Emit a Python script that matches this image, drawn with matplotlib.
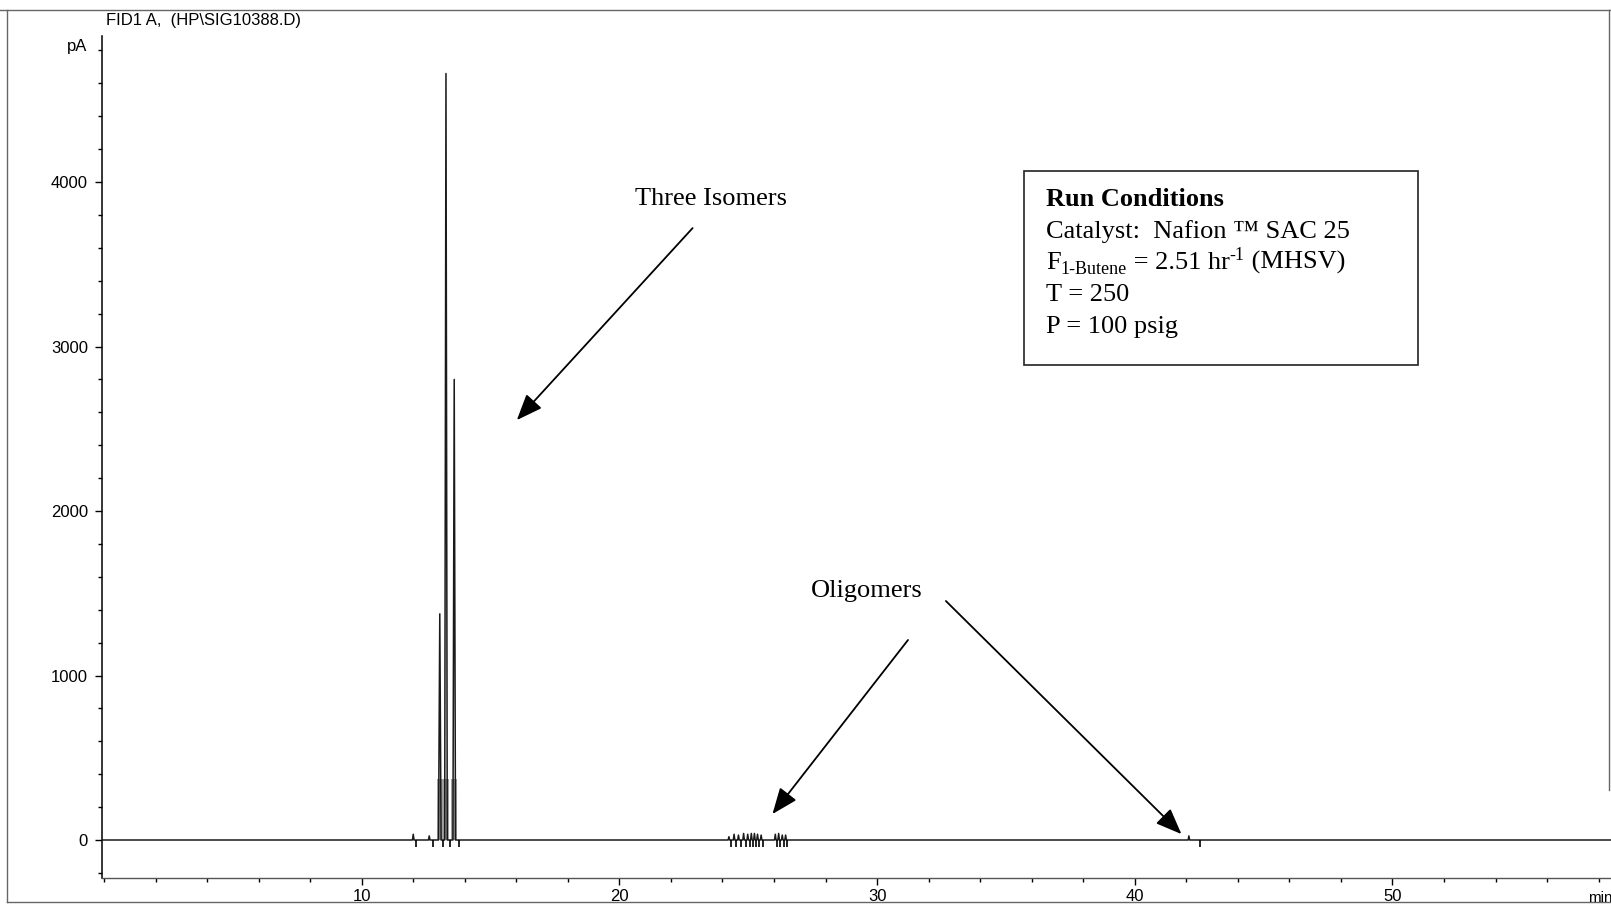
import matplotlib
matplotlib.use("Agg")
import matplotlib.pyplot as plt
from matplotlib.lines import Line2D
from matplotlib.patches import Rectangle
from matplotlib.ticker import MultipleLocator

plt.rcParams["font.family"] = ["Liberation Sans", "DejaVu Sans"]

# ---- chromatogram data (retention time in min, signal in pA) ----
isomer_times = [13.03, 13.27, 13.59]
isomer_heights = [1375, 4660, 2800]

minor_times = [12.00, 12.62,
               24.25, 24.45, 24.62, 24.82, 24.98, 25.12, 25.24, 25.36, 25.50,
               26.05, 26.18, 26.32, 26.45,
               42.10]
minor_heights = [35, 25,
                 20, 35, 30, 40, 35, 40, 40, 35, 30,
                 35, 40, 30, 30,
                 25]

# integration event marks drawn below the baseline
event_times = [12.12, 12.75, 13.14, 13.42, 13.78,
               24.33, 24.52, 24.72, 24.90, 25.05, 25.18, 25.30, 25.42, 25.57,
               26.10, 26.25, 26.38, 26.52,
               42.55]

x_major = [10, 20, 30, 40, 50]
y_major = [0, 1000, 2000, 3000, 4000]

W, H = 1611, 906
fig = plt.figure(figsize=(W / 100, H / 100), dpi=100)
fig.patch.set_facecolor("white")


def fx(px):
    return px / W


def fy(py):
    return 1 - py / H


ax = fig.add_axes([fx(102), fy(878), fx(1611) - fx(102), fy(36) - fy(878)])
ax.set_xlim(-0.078, 58.48)
ax.set_ylim(-231, 4888)

# build the detector trace as a polyline through each peak apex
peaks = sorted(
    [(t, h, 0.05) for t, h in zip(isomer_times, isomer_heights)]
    + [(t, h, 0.03) for t, h in zip(minor_times, minor_heights)]
)
trace_t, trace_y = [-0.078], [0.0]
for t, h, hw in peaks:
    trace_t += [t - hw, t, t + hw]
    trace_y += [0, h, 0]
trace_t.append(58.48)
trace_y.append(0)

# grey smear at the foot of the large isomer peaks
for t in isomer_times:
    ax.fill_between([t - 0.12, t + 0.12], 0, 370, color="#a0a0a0", lw=0, zorder=1)

ax.plot(trace_t, trace_y, color="#1a1a1a", lw=1.1, zorder=3)
ax.vlines(event_times, -45, 0, color="black", lw=1.2, zorder=3)

# axes styling
for side in ("top", "right"):
    ax.spines[side].set_visible(False)
ax.spines["left"].set_color("black")
ax.spines["left"].set_linewidth(1.1)
ax.spines["bottom"].set_color("#555555")
ax.spines["bottom"].set_linewidth(1.0)

ax.set_xticks(x_major)
ax.set_xticklabels([str(v) for v in x_major])
ax.xaxis.set_minor_locator(MultipleLocator(2))
ax.set_yticks(y_major)
ax.set_yticklabels([str(v) for v in y_major])
ax.yaxis.set_minor_locator(MultipleLocator(200))
ax.tick_params(axis="both", which="major", direction="out", length=5, width=1,
               labelsize=12, color="black")
ax.tick_params(axis="both", which="minor", direction="out", length=3, width=1,
               color="black")
ax.tick_params(axis="x", pad=3)
ax.tick_params(axis="y", pad=5)

# header and unit labels
fig.text(fx(106), fy(20), "FID1 A,  (HP\\SIG10388.D)", fontsize=12,
         ha="left", va="center")
fig.text(fx(77), fy(46), "pA", fontsize=12, ha="center", va="center")
fig.text(fx(1600), fy(898), "min", fontsize=11, ha="center", va="center")

# annotations
serif = ["Liberation Serif", "DejaVu Serif"]
ax.text(23.55, 3897, "Three Isomers", fontsize=19, family=serif,
        ha="center", va="center")
ax.text(29.61, 1514, "Oligomers", fontsize=19, family=serif,
        ha="center", va="center")

arrow_kw = dict(arrowstyle="-|>,head_length=0.8,head_width=0.32",
                mutation_scale=20, lw=1.3, color="black",
                shrinkA=0, shrinkB=0)
ax.annotate("", xy=(16.02, 2553), xytext=(22.84, 3720), arrowprops=arrow_kw)
ax.annotate("", xy=(25.94, 158), xytext=(31.20, 1216), arrowprops=arrow_kw)
ax.annotate("", xy=(41.81, 36), xytext=(32.67, 1453), arrowprops=arrow_kw)

# run-conditions box
fig.add_artist(Rectangle((fx(1024), fy(365)), fx(1418) - fx(1024),
                         fy(170.5) - fy(365), transform=fig.transFigure,
                         fill=False, edgecolor="#222222", lw=1.2))

renderer = fig.canvas.get_renderer()


def text_run(x_px, base_px, pieces):
    """Write consecutive text pieces (text, size, weight, rise_px) on one line."""
    for txt, size, weight, rise in pieces:
        t = fig.text(fx(x_px), fy(base_px - rise), txt, fontsize=size,
                     family=serif, fontweight=weight, ha="left", va="baseline")
        x_px += t.get_window_extent(renderer).width


x_box = 1046
text_run(x_box, 206, [("Run Conditions", 19, "bold", 0)])
text_run(x_box, 238, [("Catalyst:  Nafion \u2122 SAC 25", 19, "normal", 0)])
text_run(x_box, 269, [("F", 19, "normal", 0),
                      ("1-Butene", 13, "normal", -5),
                      (" = 2.51 hr", 19, "normal", 0),
                      ("-1", 13, "normal", 9),
                      (" (MHSV)", 19, "normal", 0)])
text_run(x_box, 301, [("T = 250", 19, "normal", 0)])
text_run(x_box, 333, [("P = 100 psig", 19, "normal", 0)])

# page frame
frame = [((0, 10), (1611, 10)), ((7, 10), (7, 902)), ((7, 902), (1611, 902)),
         ((1609, 10), (1609, 790))]
for (x0, y0), (x1, y1) in frame:
    fig.add_artist(Line2D([fx(x0), fx(x1)], [fy(y0), fy(y1)],
                          transform=fig.transFigure, color="#666666", lw=1.0))

fig.savefig("out.png", dpi=100)
